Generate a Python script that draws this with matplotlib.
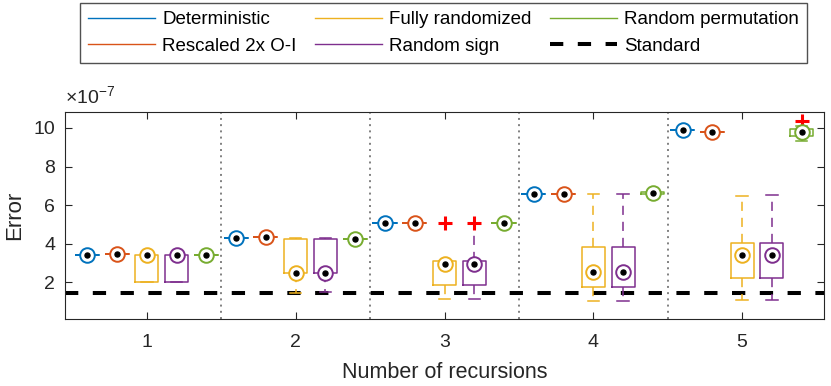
import numpy as np
import matplotlib
matplotlib.use("Agg")
import matplotlib.pyplot as plt
from matplotlib.lines import Line2D

plt.rcParams["font.family"] = ["Liberation Sans", "DejaVu Sans"]
plt.rcParams["mathtext.fontset"] = "custom"
plt.rcParams["mathtext.rm"] = "Liberation Sans"

# ── data (errors in units of 1e-7) ───────────────────────────────────────────
GROUPS   = [1, 2, 3, 4, 5]
STANDARD = 1.43

DET_VALS  = [3.40, 4.30, 5.04, 6.58, 9.91]
RESC_VALS = [3.48, 4.32, 5.04, 6.58, 9.79]

FULL_LO  = [1.98, 1.45, 1.12, 1.02, 1.07]
FULL_Q1  = [1.98, 2.45, 1.83, 1.72, 2.21]
FULL_MED = [3.39, 2.48, 2.95, 2.50, 3.41]
FULL_Q3  = [3.38, 4.23, 3.08, 3.83, 4.04]
FULL_HI  = [3.38, 4.30, 3.08, 6.58, 6.49]
FULL_OUT = [[], [], [5.04], [], []]

SIGN_LO  = [1.98, 1.47, 1.12, 1.01, 1.07]
SIGN_Q1  = [1.98, 2.45, 1.83, 1.72, 2.21]
SIGN_MED = [3.39, 2.48, 2.95, 2.50, 3.38]
SIGN_Q3  = [3.38, 4.23, 3.08, 3.83, 4.02]
SIGN_HI  = [3.38, 4.30, 5.00, 6.58, 6.54]
SIGN_OUT = [[], [], [5.04], [], []]

PERM_LO  = [3.40, 4.26, 5.06, 6.55, 9.31]
PERM_Q1  = [3.40, 4.26, 5.06, 6.56, 9.57]
PERM_MED = [3.40, 4.26, 5.06, 6.61, 9.78]
PERM_Q3  = [3.40, 4.26, 5.06, 6.67, 9.97]
PERM_HI  = [3.40, 4.26, 5.06, 6.69, 10.08]
PERM_OUT = [[], [], [], [], [10.37]]

LABELS = ["Deterministic", "Rescaled 2x O-I", "Fully randomized",
          "Random sign", "Random permutation"]
COLORS = ["#0072BD", "#D95319", "#EDB120", "#7E2F8E", "#77AC30"]
OFFSETS = [-0.4, -0.2, 0.0, 0.2, 0.4]


def flat_stats(vals):
    return [dict(med=v, q1=v, q3=v, whislo=v, whishi=v, fliers=[]) for v in vals]


def box_stats(lo, q1, med, q3, hi, out):
    return [dict(med=m, q1=a, q3=b, whislo=l, whishi=h, fliers=o)
            for l, a, m, b, h, o in zip(lo, q1, med, q3, hi, out)]


METHODS = [
    flat_stats(DET_VALS),
    flat_stats(RESC_VALS),
    box_stats(FULL_LO, FULL_Q1, FULL_MED, FULL_Q3, FULL_HI, FULL_OUT),
    box_stats(SIGN_LO, SIGN_Q1, SIGN_MED, SIGN_Q3, SIGN_HI, SIGN_OUT),
    box_stats(PERM_LO, PERM_Q1, PERM_MED, PERM_Q3, PERM_HI, PERM_OUT),
]

# ── plot ─────────────────────────────────────────────────────────────────────
fig = plt.figure(figsize=(8.31, 3.86), dpi=100)
ax = fig.add_axes([0.0782, 0.1736, 0.9134, 0.5362])

for stats, color, off in zip(METHODS, COLORS, OFFSETS):
    pos = [g + off for g in GROUPS]
    ax.bxp(stats, positions=pos, widths=0.155, showfliers=True,
           boxprops=dict(color=color, lw=1.1),
           whiskerprops=dict(color=color, lw=1.1, linestyle=(0, (6, 4.5))),
           capprops=dict(color=color, lw=1.1),
           medianprops=dict(linestyle="none"),
           flierprops=dict(marker="+", markeredgecolor="red", markersize=10,
                           markeredgewidth=2.2, linestyle="none"),
           manage_ticks=False, zorder=3)
    meds = [s["med"] for s in stats]
    ax.plot(pos, meds, "o", ms=10.5, mfc="white", mec=color, mew=1.4,
            ls="none", zorder=4)
    ax.plot(pos, meds, "o", ms=3.6, color="black", ls="none", zorder=5)

ax.axhline(STANDARD, color="black", lw=2.9, dashes=(3.3, 3.6), zorder=2)
for xs in [1.5, 2.5, 3.5, 4.5]:
    ax.axvline(xs, color="#808080", lw=1.4, linestyle=(0, (1, 2.2)), zorder=1)

ax.set_xlim(0.45, 5.55)
ax.set_ylim(0.08, 10.83)
ax.set_xticks(GROUPS)
ax.set_yticks([2, 4, 6, 8, 10])
ax.text(0.0, 1.02, r"$\times$10$^{-7}$", transform=ax.transAxes,
        fontsize=14, color="#262626", ha="left", va="bottom")

ax.tick_params(direction="in", length=5, width=0.8, labelsize=14,
               colors="#262626", top=True, right=True)
ax.tick_params(axis="x", pad=11)
ax.tick_params(axis="y", pad=7)
for sp in ax.spines.values():
    sp.set_color("#262626")
    sp.set_linewidth(0.8)

ax.set_xlabel("Number of recursions", fontsize=15.5, color="#262626")
ax.set_ylabel("Error", fontsize=16, color="#262626")
ax.xaxis.set_label_coords(0.5, -0.21)
ax.yaxis.set_label_coords(-0.053, 0.5)

handles = [Line2D([], [], color=c, lw=1.0) for c in COLORS]
handles.append(Line2D([], [], color="black", lw=2.9, dashes=(3.3, 3.6)))
names = LABELS + ["Standard"]
leg = fig.legend(handles, names,
                 ncol=3, loc="upper center", bbox_to_anchor=(0.5337, 0.993),
                 fontsize=13.5, frameon=True, fancybox=False, handlelength=3.57,
                 columnspacing=1.0, handletextpad=0.37, borderpad=0.45,
                 labelspacing=0.5, borderaxespad=0)
leg.get_frame().set_edgecolor("#262626")
leg.get_frame().set_linewidth(1.0)

fig.savefig("out.png", dpi=100)
